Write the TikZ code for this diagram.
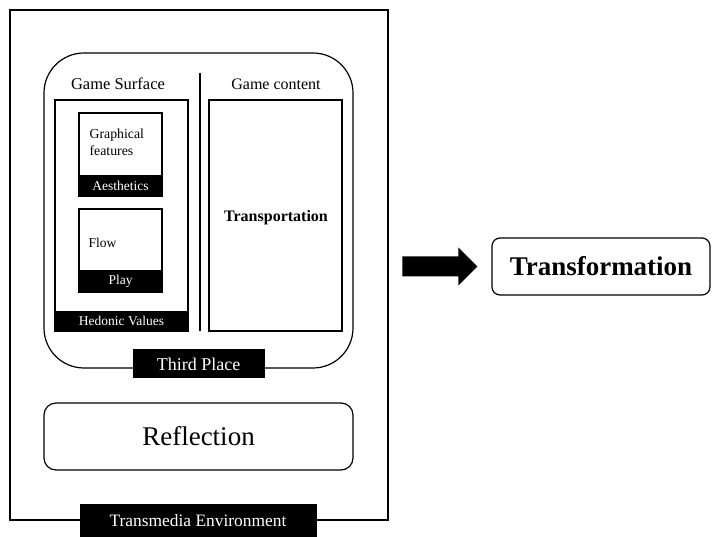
\documentclass[tikz,border=0pt]{standalone}
\usepackage{fontspec}
\setmainfont{Liberation Serif}
\usetikzlibrary{positioning,calc}
\newcommand{\fsz}[1]{\fontsize{#1}{#1}\selectfont}
\tikzset{
  box/.style={draw, line width=1.2pt, inner sep=0pt},
  band/.style={draw, fill=black, text=white, line width=1pt, inner sep=0pt, anchor=south},
  smalltxt/.style={font=\fsz{13.5}},
}

\begin{document}
\begin{tikzpicture}[x=1pt,y=-1pt]
\useasboundingbox (0,0) rectangle (721,537);

% environment
\node[box, line width=1.5pt, minimum width=378pt, minimum height=510pt] (env) at (199,265) {};
\node[band, minimum width=236pt, minimum height=32pt, font=\fsz{17.4}] (envlab) at (198,537) {Transmedia Environment};

% third place
\node[box, rounded corners=40pt, minimum width=309pt, minimum height=315pt] (tplace) at (198.5,210.5) {};
\node[band, anchor=center, minimum width=131pt, minimum height=28pt, font=\fsz{18}] (tplab) at (198.5,364) {Third Place};
\draw[line width=1.5pt] (200,73) -- (200,331);

% game surface
\node[font=\fsz{16.5}] (gsurf) at (118,84) {Game Surface};
\node[box, minimum width=133pt, minimum height=231pt] (hedbox) at (121.5,215.5) {};
\node[band, smalltxt, minimum width=133pt, minimum height=20pt] (hedlab) at (hedbox.south) {Hedonic Values};

\node[box, minimum width=83pt, minimum height=83pt] (gfbox) at (120.5,154.5) {};
\node[band, smalltxt, minimum width=83pt, minimum height=21pt] (gflab) at (gfbox.south) {Aesthetics};
\node[anchor=north west, align=left, inner sep=0pt, font=\fontsize{13.8}{17}\selectfont] (gftxt)
  at ([shift={(11,16)}]gfbox.north west) {Graphical\\features};

\node[box, minimum width=83pt, minimum height=83pt] (flowbox) at (120.5,250.5) {};
\node[band, smalltxt, minimum width=83pt, minimum height=22pt] (flowlab) at (flowbox.south) {Play};
\node[anchor=west, inner sep=0pt, font=\fsz{13.5}] (flowtxt)
  at ([shift={(10,34)}]flowbox.north west) {Flow};

% game content
\node[font=\fsz{16}] (gcont) at (276,84) {Game content};
\node[box, minimum width=133pt, minimum height=231pt] (cbox) at (275.5,215.5) {};
\node[font=\fsz{16}\bfseries] (transp) at (276,218) {Transportation};

% reflection
\node[box, rounded corners=12pt, minimum width=309pt, minimum height=67pt, font=\fsz{27}] (refl) at (198.5,436.5) {Reflection};

% transformation
\node[box, rounded corners=8pt, minimum width=218pt, minimum height=57pt, font=\fsz{27}\bfseries] (transf) at (601,266.5) {Transformation};
\fill ($(transf.west)+(-89,-10)$) -- ++(56,0) -- ++(0,-9) -- ($(transf.west)+(-14,0)$)
  -- ($(transf.west)+(-33,19)$) -- ++(0,-9) -- ++(-56,0) -- cycle;
\end{tikzpicture}
\end{document}
